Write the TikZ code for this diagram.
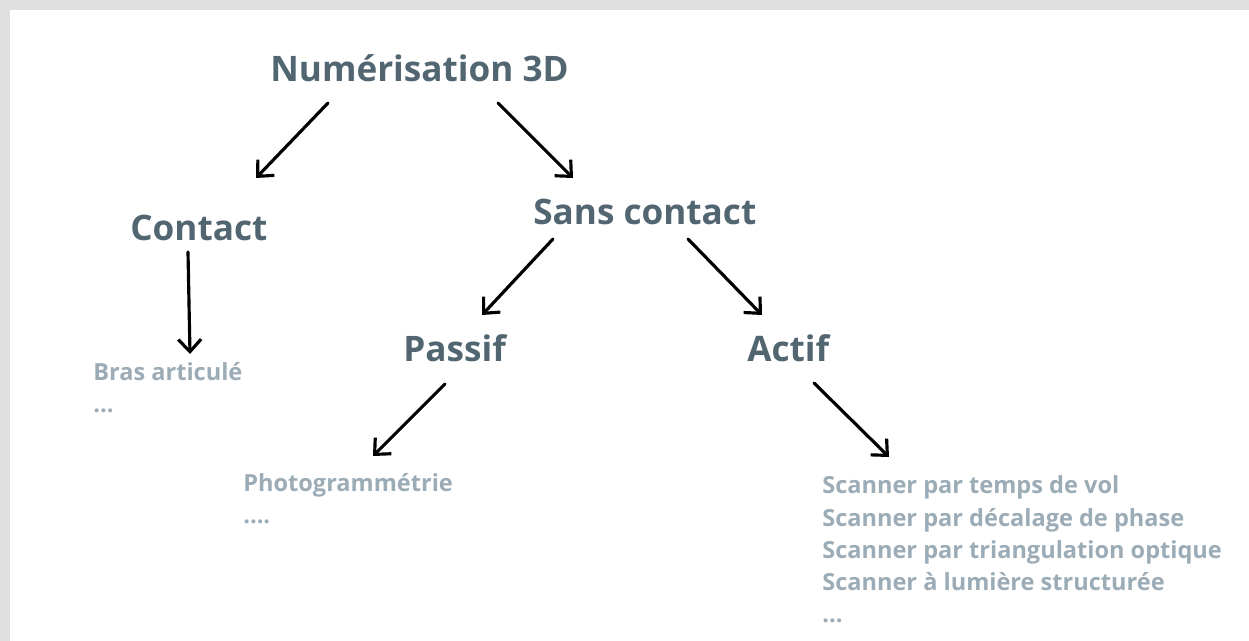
\documentclass[tikz,border=0pt]{standalone}
\usepackage{fontspec}
\setmainfont{Open Sans}
\usepackage{tikz}
\usetikzlibrary{arrows.meta,positioning}
\usepackage{xcolor}
\definecolor{framegray}{RGB}{224,224,224}
\definecolor{headslate}{RGB}{82,102,114}
\definecolor{leafgray}{RGB}{156,172,183}
\tikzset{
  headnode/.style={anchor=base west,inner sep=0pt,font=\fontsize{20}{24}\bfseries\selectfont,text=headslate},
  leafnode/.style={anchor=base west,inner sep=0pt,align=left,font=\fontsize{13.4}{18.4}\bfseries\selectfont,text=leafgray},
  sketcharrow/.style={-{Straight Barb[length=7pt,width=13pt]},line width=1.8pt,line cap=round,draw=black}
}

\begin{document}
\begin{tikzpicture}[x=0.02cm,y=-0.02cm]
  \useasboundingbox (0,0) rectangle (1249,641);
  \fill[framegray] (0,0) rectangle (1249,641);
  \fill[white] (10,10) rectangle (1249,641);
  \node[headnode] (num) at (270,82) {Numérisation 3D};
  \node[headnode] (contact) at (130,241) {Contact};
  \node[headnode] (sanscontact) at (533,225) {Sans contact};
  \node[headnode] (passif) at (403,362) {Passif};
  \node[headnode] (actif) at (747,362) {Actif};
  % leaves: base west sits on the last line
  \node[leafnode] (bras) at (93,413) {Bras articulé\\...};
  \node[leafnode] (photo) at (243,524) {Photogrammétrie\\....};
  \node[leafnode] (scanners) at (822,623) {Scanner par temps de vol\\Scanner par décalage de phase\\Scanner par triangulation optique\\Scanner à lumière structurée\\...};
  \draw[sketcharrow] ([shift={(58,21)}]num.base west) -- ([shift={(126,-63)}]contact.base west);
  \draw[sketcharrow] ([shift={(228,21)}]num.base west) -- ([shift={(40,-47)}]sanscontact.base west);
  \draw[sketcharrow] ([shift={(58,11)}]contact.base west) -- ([shift={(97,-59)}]bras.base west);
  \draw[sketcharrow] ([shift={(20,14)}]sanscontact.base west) -- ([shift={(79,-47)}]passif.base west);
  \draw[sketcharrow] ([shift={(155,14)}]sanscontact.base west) -- ([shift={(15,-47)}]actif.base west);
  \draw[sketcharrow] ([shift={(42,22)}]passif.base west) -- ([shift={(130,-68)}]photo.base west);
  \draw[sketcharrow] ([shift={(67,21)}]actif.base west) -- ([shift={(67,-166)}]scanners.base west);
\end{tikzpicture}
\end{document}
